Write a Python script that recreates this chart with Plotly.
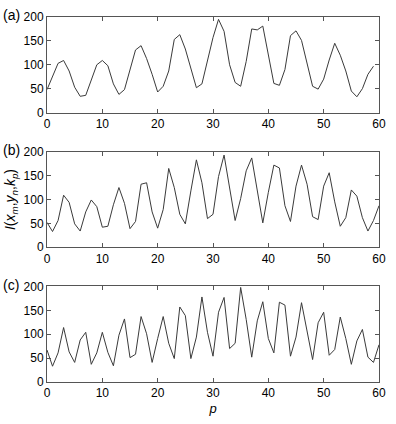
import plotly.graph_objects as go
from plotly.subplots import make_subplots

p_a = list(range(0, 60))
I_a = [48, 75, 103, 109, 87, 53, 34, 36, 67, 100, 109, 98, 60, 38, 48, 90, 131, 140, 113, 80,
       43, 55, 87, 153, 163, 133, 95, 52, 60, 107, 157, 195, 170, 100, 63, 55, 107, 175, 173, 181,
       117, 61, 57, 90, 161, 171, 151, 103, 55, 49, 70, 110, 145, 120, 87, 45, 33, 50, 80, 97]

p_b = list(range(0, 61))
I_b = [52, 33, 56, 109, 94, 49, 34, 74, 99, 85, 42, 44, 89, 125, 92, 39, 54, 132, 135, 74,
       40, 79, 165, 125, 69, 49, 118, 183, 135, 60, 69, 148, 193, 128, 56, 102, 160, 187, 118, 51,
       115, 172, 166, 87, 54, 128, 172, 132, 64, 58, 128, 156, 95, 44, 62, 120, 107, 62, 34, 56, 87]

p_c = list(range(0, 61))
I_c = [67, 33, 61, 114, 63, 41, 88, 104, 37, 61, 104, 62, 34, 98, 132, 51, 58, 137, 101, 41,
       91, 137, 81, 49, 157, 139, 49, 94, 178, 104, 54, 146, 177, 70, 81, 198, 131, 52, 128, 168,
       91, 61, 167, 161, 54, 94, 166, 104, 47, 124, 146, 56, 68, 136, 91, 37, 86, 110, 52, 41, 78]

x_ticks = [0, 10, 20, 30, 40, 50, 60]
y_ticks = [0, 50, 100, 150, 200]
panel_labels = ["(a)", "(b)", "(c)"]

fig = make_subplots(rows=3, cols=1, shared_xaxes=False, vertical_spacing=0.1)
line_style = dict(color="#3a3a3a", width=1)
for i, (px, py) in enumerate([(p_a, I_a), (p_b, I_b), (p_c, I_c)]):
    fig.add_trace(go.Scatter(x=px, y=py, mode="lines", line=line_style, showlegend=False),
                  row=i + 1, col=1)

H = 424
plot_bottom = 392
span = plot_bottom - 10
doms = [(110, 10), (251, 151), (392, 292)]
axfont = dict(family="Liberation Sans, Arial, sans-serif", size=12, color="black")
for i, (b, t) in enumerate(doms):
    yd = [(plot_bottom - b) / span, (plot_bottom - t) / span]
    sfx = "" if i == 0 else str(i + 1)
    fig.layout["yaxis" + sfx].update(
        domain=yd, range=[0, 200], tickvals=y_ticks, ticks="inside", ticklen=4,
        showline=True, linecolor="#555555", linewidth=1, mirror="ticks", showgrid=False,
        zeroline=False, tickfont=axfont, tickcolor="#555555")
    fig.layout["xaxis" + sfx].update(
        range=[0, 60], tickvals=x_ticks, ticks="inside", ticklen=4,
        showline=True, linecolor="#555555", linewidth=1, mirror="ticks", showgrid=False,
        zeroline=False, tickfont=axfont, tickcolor="#555555")
    fig.add_annotation(text=panel_labels[i], xref="paper", yref="paper", x=-0.139,
                       y=yd[1] + 0.005, xanchor="left", yanchor="middle", showarrow=False,
                       font=dict(family="Liberation Sans, Arial, sans-serif", size=14, color="black"))

fig.layout.xaxis3.title = dict(text="<i>p</i>", font=dict(family="Liberation Sans, Arial, sans-serif", size=13, color="black"), standoff=4)
fig.layout.yaxis2.title = dict(
    text="<i>I</i>(<i>x</i><sub><i>m</i></sub>,<i>y</i><sub><i>n</i></sub>,<i>k</i><sub><i>p</i></sub>)",
    font=dict(family="Liberation Sans, Arial, sans-serif", size=14, color="black"), standoff=4)

fig.update_layout(width=396, height=H, margin=dict(l=47, r=11, t=10, b=32),
                  paper_bgcolor="white", plot_bgcolor="white")
fig.write_html("out.html")
